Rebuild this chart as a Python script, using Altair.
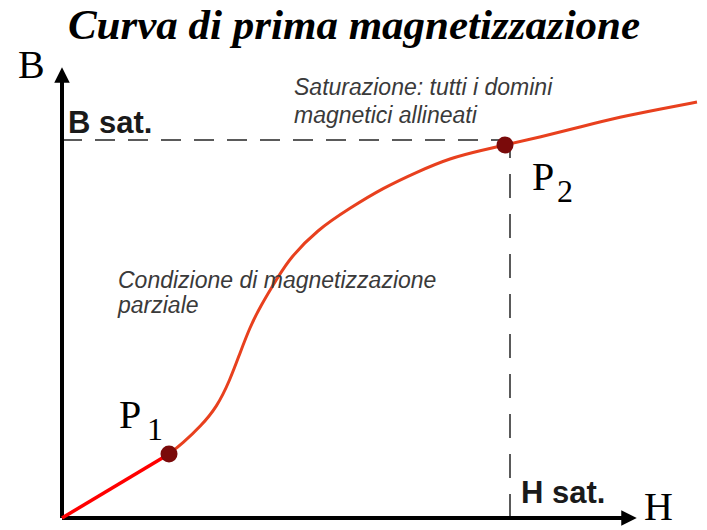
import altair as alt
import pandas as pd

# Magnetization curve B(H), in drawing units with the origin at the axes' corner
curve_h = [107, 121, 138, 155, 168, 178, 188, 198, 216, 228, 255, 288, 321,
           355, 388, 421, 443, 478, 518, 558, 598, 635]
curve_b = [64, 75, 91, 111, 138, 165, 191, 211, 241, 260, 288, 310, 330,
           346, 360, 368, 373, 381, 391, 401, 409, 416]

# Initial linear stretch from the origin to P1
linear_h = [0, 107]
linear_b = [0, 64]

# Marked points P1 and P2
point_names = ["P1", "P2"]
point_h = [107, 443]
point_b = [64, 373]

# Saturation levels
h_sat = 448
b_sat = 378

# Axis extents and arrow heads
axis_h_end = 560
axis_b_end = 436
arrow_h = 567
arrow_b = 443

# Text labels: text, H, B
serif_texts = ["B", "H", "P", "P"]
serif_h = [-44, 582, 57, 470]
serif_b = [440, -2, 90, 328]
sub_texts = ["1", "2"]
sub_h = [85, 495]
sub_b = [78, 316]
sat_texts = ["B sat.", "H sat."]
sat_h = [6, 459]
sat_b = [385, 15]
note_texts = ["Saturazione: tutti i domini", "magnetici allineati",
              "Condizione di magnetizzazione", "parziale"]
note_h = [232, 232, 56, 56]
note_b = [423, 395, 230, 205]
title_text = "Curva di prima magnetizzazione"
title_h = 292
title_b = 479

xs = alt.Scale(domain=[-62, 645])
ys = alt.Scale(domain=[-12, 518])
X = lambda f="h": alt.X(f"{f}:Q", scale=xs, axis=None)
Y = lambda f="b": alt.Y(f"{f}:Q", scale=ys, axis=None)

curve_df = pd.DataFrame({"h": curve_h, "b": curve_b, "i": range(len(curve_h))})
linear_df = pd.DataFrame({"h": linear_h, "b": linear_b})
pts_df = pd.DataFrame({"name": point_names, "h": point_h, "b": point_b})

curve = alt.Chart(curve_df).mark_line(
    color="#e8401e", strokeWidth=3, interpolate="basis"
).encode(x=X(), y=Y(), order="i:Q")

linear = alt.Chart(linear_df).mark_line(color="#ff0000", strokeWidth=3.5).encode(x=X(), y=Y())

dash_df_h = pd.DataFrame({"h": [0], "h2": [point_h[1]], "b": [b_sat]})
dash_h = alt.Chart(dash_df_h).mark_rule(
    color="#5a5a5a", strokeWidth=2, strokeDash=[20, 13]
).encode(x=X(), x2="h2:Q", y=Y())

dash_df_v = pd.DataFrame({"h": [h_sat], "b": [0], "b2": [b_sat - 8]})
dash_v = alt.Chart(dash_df_v).mark_rule(
    color="#5a5a5a", strokeWidth=2, strokeDash=[24, 16]
).encode(x=X(), y=Y(), y2="b2:Q")

axes_df = pd.DataFrame({"h": [0, 0], "h2": [0, axis_h_end], "b": [0, 0], "b2": [axis_b_end, 0]})
axes = alt.Chart(axes_df).mark_rule(color="black", strokeWidth=4).encode(
    x=X(), x2="h2:Q", y=Y(), y2="b2:Q")

arrows_df = pd.DataFrame({"h": [0, arrow_h], "b": [arrow_b, 0], "dir": ["up", "right"]})
arrow_up = alt.Chart(arrows_df[arrows_df.dir == "up"]).mark_point(
    shape="M0,-1L1,1L-1,1Z", filled=True, color="black", opacity=1, size=240
).encode(x=X(), y=Y())
arrow_right = alt.Chart(arrows_df[arrows_df.dir == "right"]).mark_point(
    shape="M1,0L-1,1L-1,-1Z", filled=True, color="black", opacity=1, size=240
).encode(x=X(), y=Y())

dots = alt.Chart(pts_df).mark_circle(color="#7a0a0a", opacity=1, size=290).encode(x=X(), y=Y())

serif = alt.Chart(pd.DataFrame({"t": serif_texts, "h": serif_h, "b": serif_b})).mark_text(
    font="Liberation Serif", fontSize=40, align="left", baseline="alphabetic", color="black"
).encode(x=X(), y=Y(), text="t:N")

subs = alt.Chart(pd.DataFrame({"t": sub_texts, "h": sub_h, "b": sub_b})).mark_text(
    font="Liberation Serif", fontSize=32, align="left", baseline="alphabetic", color="black"
).encode(x=X(), y=Y(), text="t:N")

sats = alt.Chart(pd.DataFrame({"t": sat_texts, "h": sat_h, "b": sat_b})).mark_text(
    font="Liberation Sans", fontSize=31, fontWeight="bold", align="left",
    baseline="alphabetic", color="#1a1a1a"
).encode(x=X(), y=Y(), text="t:N")

notes = alt.Chart(pd.DataFrame({"t": note_texts, "h": note_h, "b": note_b})).mark_text(
    font="Liberation Sans", fontSize=23, fontStyle="italic", align="left",
    baseline="alphabetic", color="#3a3a3a"
).encode(x=X(), y=Y(), text="t:N")

title = alt.Chart(pd.DataFrame({"t": [title_text], "h": [title_h], "b": [title_b]})).mark_text(
    font="Liberation Serif", fontSize=43, fontWeight="bold", fontStyle="italic",
    align="center", baseline="alphabetic", color="black"
).encode(x=X(), y=Y(), text="t:N")

chart = alt.layer(
    dash_h, dash_v, axes, arrow_up, arrow_right, linear, curve, dots,
    notes, sats, serif, subs, title
).properties(
    width=707, height=530, padding=0, autosize=alt.AutoSizeParams(type="none"),
    background="white"
).configure_view(stroke=None)

chart.save("out.html", embed_options={"renderer": "svg", "actions": False})
